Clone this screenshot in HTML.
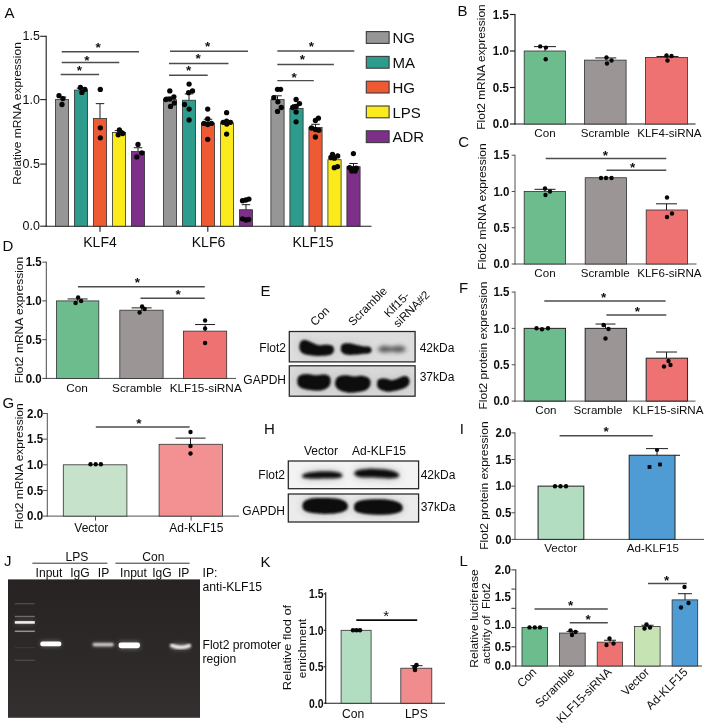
<!DOCTYPE html>
<html lang="en"><head><meta charset="utf-8"><title>Figure</title>
<style>html,body{margin:0;padding:0;background:#fff}svg{display:block}text{font-family:'Liberation Sans', Arial, sans-serif}</style>
</head><body>
<svg width="709" height="726" viewBox="0 0 709 726">
<rect width="709" height="726" fill="#ffffff"/>
<defs>
<filter id="b1" x="-30%" y="-60%" width="160%" height="220%"><feGaussianBlur stdDeviation="1.3"/></filter>
<filter id="b15" x="-30%" y="-80%" width="160%" height="260%"><feGaussianBlur stdDeviation="1.7"/></filter>
<filter id="b2" x="-30%" y="-80%" width="160%" height="260%"><feGaussianBlur stdDeviation="2.2"/></filter>
<filter id="bh" x="-30%" y="-100%" width="160%" height="300%"><feGaussianBlur stdDeviation="4.5"/></filter>
<filter id="b3" x="-20%" y="-120%" width="140%" height="340%"><feGaussianBlur stdDeviation="0.9"/></filter>
<filter id="b4" x="-20%" y="-120%" width="140%" height="340%"><feGaussianBlur stdDeviation="0.75"/></filter>
<linearGradient id="gelg" x1="0" x2="0" y1="0" y2="1"><stop offset="0" stop-color="#272322"/><stop offset="0.55" stop-color="#2d2928"/><stop offset="1" stop-color="#34302f"/></linearGradient>
<clipPath id="cE1"><rect x="289.3" y="331.5" width="125.8" height="30.4"/></clipPath>
<clipPath id="cE2"><rect x="289.3" y="365.8" width="125.8" height="30.4"/></clipPath>
<clipPath id="cH1"><rect x="288.3" y="461.0" width="130.3" height="27.7"/></clipPath>
<clipPath id="cH2"><rect x="288.3" y="494.0" width="130.3" height="28.0"/></clipPath>
<clipPath id="cJ"><rect x="8.0" y="579.4" width="192" height="138.4"/></clipPath>
</defs>
<text transform="translate(4.5 18)" font-size="15" text-anchor="start" font-weight="normal" fill="#0c0c0c">A</text>
<line x1="46.20" y1="35.80" x2="46.20" y2="226.75" stroke="#1c1c1c" stroke-width="1.1"/>
<line x1="45.65" y1="226.20" x2="371.50" y2="226.20" stroke="#1c1c1c" stroke-width="1.1"/>
<line x1="40.20" y1="36.30" x2="46.20" y2="36.30" stroke="#1c1c1c" stroke-width="1.1"/>
<text transform="translate(39.900000000000006 40.30000000000001)" font-size="12.5" text-anchor="end" font-weight="normal" fill="#0c0c0c">1.5</text>
<line x1="40.20" y1="99.60" x2="46.20" y2="99.60" stroke="#1c1c1c" stroke-width="1.1"/>
<text transform="translate(39.900000000000006 103.6)" font-size="12.5" text-anchor="end" font-weight="normal" fill="#0c0c0c">1.0</text>
<line x1="40.20" y1="164.10" x2="46.20" y2="164.10" stroke="#1c1c1c" stroke-width="1.1"/>
<text transform="translate(39.900000000000006 168.09999999999997)" font-size="12.5" text-anchor="end" font-weight="normal" fill="#0c0c0c">0.5</text>
<line x1="40.20" y1="226.20" x2="46.20" y2="226.20" stroke="#1c1c1c" stroke-width="1.1"/>
<text transform="translate(39.900000000000006 230.2)" font-size="12.5" text-anchor="end" font-weight="normal" fill="#0c0c0c">0.0</text>
<text transform="translate(21.2 113.5) rotate(-90) scale(1 0.97)" font-size="12" text-anchor="middle" font-weight="normal" fill="#0c0c0c">Relative mRNA expression</text>
<rect x="55.40" y="99.60" width="13.20" height="126.60" fill="#969696" stroke="#303030" stroke-width="0.8"/>
<line x1="62.00" y1="99.60" x2="62.00" y2="97.07" stroke="#1c1c1c" stroke-width="1.0"/>
<line x1="57.75" y1="97.07" x2="66.25" y2="97.07" stroke="#1c1c1c" stroke-width="1.0"/>
<rect x="74.40" y="90.10" width="13.20" height="136.09" fill="#2e9c8c" stroke="#303030" stroke-width="0.8"/>
<line x1="81.00" y1="90.10" x2="81.00" y2="88.21" stroke="#1c1c1c" stroke-width="1.0"/>
<line x1="76.75" y1="88.21" x2="85.25" y2="88.21" stroke="#1c1c1c" stroke-width="1.0"/>
<rect x="93.40" y="118.59" width="13.20" height="107.61" fill="#ee5a32" stroke="#303030" stroke-width="0.8"/>
<line x1="100.00" y1="118.59" x2="100.00" y2="103.65" stroke="#1c1c1c" stroke-width="1.0"/>
<line x1="95.75" y1="103.65" x2="104.25" y2="103.65" stroke="#1c1c1c" stroke-width="1.0"/>
<rect x="112.40" y="132.52" width="13.20" height="93.68" fill="#fbea1c" stroke="#303030" stroke-width="0.8"/>
<line x1="119.00" y1="132.52" x2="119.00" y2="130.62" stroke="#1c1c1c" stroke-width="1.0"/>
<line x1="114.75" y1="130.62" x2="123.25" y2="130.62" stroke="#1c1c1c" stroke-width="1.0"/>
<rect x="131.40" y="151.51" width="13.20" height="74.69" fill="#7d2f8a" stroke="#303030" stroke-width="0.8"/>
<line x1="138.00" y1="151.51" x2="138.00" y2="147.71" stroke="#1c1c1c" stroke-width="1.0"/>
<line x1="133.75" y1="147.71" x2="142.25" y2="147.71" stroke="#1c1c1c" stroke-width="1.0"/>
<line x1="100.00" y1="226.20" x2="100.00" y2="231.70" stroke="#1c1c1c" stroke-width="1.1"/>
<text transform="translate(100 246.8)" font-size="14" text-anchor="middle" font-weight="normal" fill="#0c0c0c">KLF4</text>
<rect x="163.40" y="99.60" width="13.20" height="126.60" fill="#969696" stroke="#303030" stroke-width="0.8"/>
<line x1="170.00" y1="99.60" x2="170.00" y2="97.07" stroke="#1c1c1c" stroke-width="1.0"/>
<line x1="165.75" y1="97.07" x2="174.25" y2="97.07" stroke="#1c1c1c" stroke-width="1.0"/>
<rect x="182.40" y="100.23" width="13.20" height="125.97" fill="#2e9c8c" stroke="#303030" stroke-width="0.8"/>
<line x1="189.00" y1="100.23" x2="189.00" y2="93.90" stroke="#1c1c1c" stroke-width="1.0"/>
<line x1="184.75" y1="93.90" x2="193.25" y2="93.90" stroke="#1c1c1c" stroke-width="1.0"/>
<rect x="201.40" y="123.02" width="13.20" height="103.18" fill="#ee5a32" stroke="#303030" stroke-width="0.8"/>
<line x1="208.00" y1="123.02" x2="208.00" y2="119.22" stroke="#1c1c1c" stroke-width="1.0"/>
<line x1="203.75" y1="119.22" x2="212.25" y2="119.22" stroke="#1c1c1c" stroke-width="1.0"/>
<rect x="220.40" y="123.02" width="13.20" height="103.18" fill="#fbea1c" stroke="#303030" stroke-width="0.8"/>
<line x1="227.00" y1="123.02" x2="227.00" y2="120.49" stroke="#1c1c1c" stroke-width="1.0"/>
<line x1="222.75" y1="120.49" x2="231.25" y2="120.49" stroke="#1c1c1c" stroke-width="1.0"/>
<rect x="239.40" y="209.74" width="13.20" height="16.46" fill="#7d2f8a" stroke="#303030" stroke-width="0.8"/>
<line x1="246.00" y1="209.74" x2="246.00" y2="204.68" stroke="#1c1c1c" stroke-width="1.0"/>
<line x1="241.75" y1="204.68" x2="250.25" y2="204.68" stroke="#1c1c1c" stroke-width="1.0"/>
<line x1="207.80" y1="226.20" x2="207.80" y2="231.70" stroke="#1c1c1c" stroke-width="1.1"/>
<text transform="translate(208.5 246.8)" font-size="14" text-anchor="middle" font-weight="normal" fill="#0c0c0c">KLF6</text>
<rect x="270.90" y="99.60" width="13.20" height="126.60" fill="#969696" stroke="#303030" stroke-width="0.8"/>
<line x1="277.50" y1="99.60" x2="277.50" y2="95.80" stroke="#1c1c1c" stroke-width="1.0"/>
<line x1="273.25" y1="95.80" x2="281.75" y2="95.80" stroke="#1c1c1c" stroke-width="1.0"/>
<rect x="289.90" y="108.46" width="13.20" height="117.74" fill="#2e9c8c" stroke="#303030" stroke-width="0.8"/>
<line x1="296.50" y1="108.46" x2="296.50" y2="104.66" stroke="#1c1c1c" stroke-width="1.0"/>
<line x1="292.25" y1="104.66" x2="300.75" y2="104.66" stroke="#1c1c1c" stroke-width="1.0"/>
<rect x="308.90" y="127.45" width="13.20" height="98.75" fill="#ee5a32" stroke="#303030" stroke-width="0.8"/>
<line x1="315.50" y1="127.45" x2="315.50" y2="124.29" stroke="#1c1c1c" stroke-width="1.0"/>
<line x1="311.25" y1="124.29" x2="319.75" y2="124.29" stroke="#1c1c1c" stroke-width="1.0"/>
<rect x="327.90" y="159.73" width="13.20" height="66.47" fill="#fbea1c" stroke="#303030" stroke-width="0.8"/>
<line x1="334.50" y1="159.73" x2="334.50" y2="157.20" stroke="#1c1c1c" stroke-width="1.0"/>
<line x1="330.25" y1="157.20" x2="338.75" y2="157.20" stroke="#1c1c1c" stroke-width="1.0"/>
<rect x="346.90" y="166.70" width="13.20" height="59.50" fill="#7d2f8a" stroke="#303030" stroke-width="0.8"/>
<line x1="353.50" y1="166.70" x2="353.50" y2="163.53" stroke="#1c1c1c" stroke-width="1.0"/>
<line x1="349.25" y1="163.53" x2="357.75" y2="163.53" stroke="#1c1c1c" stroke-width="1.0"/>
<line x1="315.00" y1="226.20" x2="315.00" y2="231.70" stroke="#1c1c1c" stroke-width="1.1"/>
<text transform="translate(313 246.8)" font-size="14" text-anchor="middle" font-weight="normal" fill="#0c0c0c">KLF15</text>
<circle cx="59.0" cy="95.7" r="2.65" fill="#060606"/>
<circle cx="62.9" cy="98.6" r="2.65" fill="#060606"/>
<circle cx="62.0" cy="104.5" r="2.65" fill="#060606"/>
<circle cx="80.4" cy="87.4" r="2.65" fill="#060606"/>
<circle cx="84.9" cy="89.4" r="2.65" fill="#060606"/>
<circle cx="81.9" cy="92.4" r="2.65" fill="#060606"/>
<circle cx="100.3" cy="89.4" r="2.65" fill="#060606"/>
<circle cx="100.3" cy="127.8" r="2.65" fill="#060606"/>
<circle cx="100.3" cy="137.8" r="2.65" fill="#060606"/>
<circle cx="119.4" cy="130.0" r="2.65" fill="#060606"/>
<circle cx="122.7" cy="133.5" r="2.65" fill="#060606"/>
<circle cx="118.2" cy="134.8" r="2.65" fill="#060606"/>
<circle cx="138.0" cy="144.4" r="2.65" fill="#060606"/>
<circle cx="141.8" cy="152.9" r="2.65" fill="#060606"/>
<circle cx="136.8" cy="156.9" r="2.65" fill="#060606"/>
<circle cx="169.8" cy="90.9" r="2.65" fill="#060606"/>
<circle cx="165.9" cy="99.5" r="2.65" fill="#060606"/>
<circle cx="169.8" cy="99.1" r="2.65" fill="#060606"/>
<circle cx="173.9" cy="96.8" r="2.65" fill="#060606"/>
<circle cx="174.3" cy="103.0" r="2.65" fill="#060606"/>
<circle cx="170.5" cy="106.4" r="2.65" fill="#060606"/>
<circle cx="189.1" cy="84.1" r="2.65" fill="#060606"/>
<circle cx="192.5" cy="90.9" r="2.65" fill="#060606"/>
<circle cx="188.6" cy="92.7" r="2.65" fill="#060606"/>
<circle cx="184.5" cy="104.5" r="2.65" fill="#060606"/>
<circle cx="189.1" cy="109.1" r="2.65" fill="#060606"/>
<circle cx="189.1" cy="120.0" r="2.65" fill="#060606"/>
<circle cx="207.7" cy="109.1" r="2.65" fill="#060606"/>
<circle cx="207.7" cy="118.9" r="2.65" fill="#060606"/>
<circle cx="203.9" cy="123.4" r="2.65" fill="#060606"/>
<circle cx="207.7" cy="124.5" r="2.65" fill="#060606"/>
<circle cx="211.4" cy="123.4" r="2.65" fill="#060606"/>
<circle cx="207.7" cy="139.3" r="2.65" fill="#060606"/>
<circle cx="226.6" cy="112.7" r="2.65" fill="#060606"/>
<circle cx="223.2" cy="122.3" r="2.65" fill="#060606"/>
<circle cx="226.6" cy="121.1" r="2.65" fill="#060606"/>
<circle cx="230.5" cy="122.3" r="2.65" fill="#060606"/>
<circle cx="226.8" cy="124.0" r="2.65" fill="#060606"/>
<circle cx="226.6" cy="134.1" r="2.65" fill="#060606"/>
<circle cx="242.5" cy="200.7" r="2.65" fill="#060606"/>
<circle cx="245.9" cy="200.0" r="2.65" fill="#060606"/>
<circle cx="248.9" cy="199.1" r="2.65" fill="#060606"/>
<circle cx="242.5" cy="218.9" r="2.65" fill="#060606"/>
<circle cx="245.9" cy="220.0" r="2.65" fill="#060606"/>
<circle cx="248.6" cy="219.5" r="2.65" fill="#060606"/>
<circle cx="277.5" cy="89.3" r="2.65" fill="#060606"/>
<circle cx="280.6" cy="89.3" r="2.65" fill="#060606"/>
<circle cx="273.8" cy="97.7" r="2.65" fill="#060606"/>
<circle cx="277.9" cy="101.8" r="2.65" fill="#060606"/>
<circle cx="281.3" cy="107.5" r="2.65" fill="#060606"/>
<circle cx="277.5" cy="111.4" r="2.65" fill="#060606"/>
<circle cx="296.1" cy="99.5" r="2.65" fill="#060606"/>
<circle cx="299.5" cy="103.6" r="2.65" fill="#060606"/>
<circle cx="292.7" cy="107.5" r="2.65" fill="#060606"/>
<circle cx="296.1" cy="106.4" r="2.65" fill="#060606"/>
<circle cx="296.1" cy="112.0" r="2.65" fill="#060606"/>
<circle cx="296.1" cy="121.8" r="2.65" fill="#060606"/>
<circle cx="318.4" cy="118.2" r="2.65" fill="#060606"/>
<circle cx="315.4" cy="120.5" r="2.65" fill="#060606"/>
<circle cx="311.5" cy="128.0" r="2.65" fill="#060606"/>
<circle cx="315.4" cy="129.5" r="2.65" fill="#060606"/>
<circle cx="318.8" cy="130.2" r="2.65" fill="#060606"/>
<circle cx="315.4" cy="137.0" r="2.65" fill="#060606"/>
<circle cx="332.5" cy="154.5" r="2.65" fill="#060606"/>
<circle cx="337.7" cy="155.9" r="2.65" fill="#060606"/>
<circle cx="330.9" cy="157.5" r="2.65" fill="#060606"/>
<circle cx="334.3" cy="158.2" r="2.65" fill="#060606"/>
<circle cx="334.3" cy="167.7" r="2.65" fill="#060606"/>
<circle cx="337.5" cy="166.6" r="2.65" fill="#060606"/>
<circle cx="353.4" cy="153.6" r="2.65" fill="#060606"/>
<circle cx="349.5" cy="167.7" r="2.65" fill="#060606"/>
<circle cx="352.9" cy="168.9" r="2.65" fill="#060606"/>
<circle cx="356.3" cy="168.2" r="2.65" fill="#060606"/>
<circle cx="351.8" cy="171.1" r="2.65" fill="#060606"/>
<circle cx="355.2" cy="171.1" r="2.65" fill="#060606"/>
<line x1="61.70" y1="51.70" x2="139.00" y2="51.70" stroke="#4c4c4c" stroke-width="1.45"/>
<text transform="translate(98.1 51.9)" font-size="13.5" text-anchor="middle" font-weight="bold" fill="#111">*</text>
<line x1="61.70" y1="62.40" x2="119.30" y2="62.40" stroke="#4c4c4c" stroke-width="1.45"/>
<text transform="translate(86.9 64.9)" font-size="13.5" text-anchor="middle" font-weight="bold" fill="#111">*</text>
<line x1="60.70" y1="74.40" x2="99.10" y2="74.40" stroke="#4c4c4c" stroke-width="1.45"/>
<text transform="translate(79.4 75.4)" font-size="13.5" text-anchor="middle" font-weight="bold" fill="#111">*</text>
<line x1="170.00" y1="51.20" x2="248.00" y2="51.20" stroke="#4c4c4c" stroke-width="1.45"/>
<text transform="translate(207.7 50.9)" font-size="13.5" text-anchor="middle" font-weight="bold" fill="#111">*</text>
<line x1="169.00" y1="63.40" x2="228.50" y2="63.40" stroke="#4c4c4c" stroke-width="1.45"/>
<text transform="translate(198 63.4)" font-size="13.5" text-anchor="middle" font-weight="bold" fill="#111">*</text>
<line x1="169.00" y1="75.20" x2="207.70" y2="75.20" stroke="#4c4c4c" stroke-width="1.45"/>
<text transform="translate(188.7 75.4)" font-size="13.5" text-anchor="middle" font-weight="bold" fill="#111">*</text>
<line x1="277.30" y1="50.90" x2="354.30" y2="50.90" stroke="#4c4c4c" stroke-width="1.45"/>
<text transform="translate(311.3 51.4)" font-size="13.5" text-anchor="middle" font-weight="bold" fill="#111">*</text>
<line x1="277.30" y1="64.50" x2="333.90" y2="64.50" stroke="#4c4c4c" stroke-width="1.45"/>
<text transform="translate(302.4 64.4)" font-size="13.5" text-anchor="middle" font-weight="bold" fill="#111">*</text>
<line x1="277.30" y1="80.60" x2="313.80" y2="80.60" stroke="#4c4c4c" stroke-width="1.45"/>
<text transform="translate(294 82.4)" font-size="13.5" text-anchor="middle" font-weight="bold" fill="#111">*</text>
<rect x="366.30" y="31.60" width="22.80" height="11.80" fill="#969696" stroke="#3a3a3a" stroke-width="1.1"/>
<text transform="translate(392.5 43.2)" font-size="15" text-anchor="start" font-weight="normal" fill="#0c0c0c">NG</text>
<rect x="366.30" y="56.40" width="22.80" height="11.80" fill="#2e9c8c" stroke="#3a3a3a" stroke-width="1.1"/>
<text transform="translate(392.5 68.0)" font-size="15" text-anchor="start" font-weight="normal" fill="#0c0c0c">MA</text>
<rect x="366.30" y="81.20" width="22.80" height="11.80" fill="#ee5a32" stroke="#3a3a3a" stroke-width="1.1"/>
<text transform="translate(392.5 92.8)" font-size="15" text-anchor="start" font-weight="normal" fill="#0c0c0c">HG</text>
<rect x="366.30" y="106.00" width="22.80" height="11.80" fill="#fbea1c" stroke="#3a3a3a" stroke-width="1.1"/>
<text transform="translate(392.5 117.6)" font-size="15" text-anchor="start" font-weight="normal" fill="#0c0c0c">LPS</text>
<rect x="366.30" y="130.80" width="22.80" height="11.80" fill="#7d2f8a" stroke="#3a3a3a" stroke-width="1.1"/>
<text transform="translate(392.5 142.4)" font-size="15" text-anchor="start" font-weight="normal" fill="#0c0c0c">ADR</text>
<text transform="translate(457.5 15.5)" font-size="15" text-anchor="start" font-weight="normal" fill="#0c0c0c">B</text>
<line x1="515.00" y1="14.00" x2="515.00" y2="124.55" stroke="#1c1c1c" stroke-width="1.15"/>
<line x1="514.45" y1="124.00" x2="695.50" y2="124.00" stroke="#1c1c1c" stroke-width="1.15"/>
<line x1="510.00" y1="14.50" x2="515.00" y2="14.50" stroke="#1c1c1c" stroke-width="1.15"/>
<text transform="translate(508.8 18.7) scale(0.96 1)" font-size="12" text-anchor="end" font-weight="bold" fill="#0c0c0c">1.5</text>
<line x1="510.00" y1="51.00" x2="515.00" y2="51.00" stroke="#1c1c1c" stroke-width="1.15"/>
<text transform="translate(508.8 55.2) scale(0.96 1)" font-size="12" text-anchor="end" font-weight="bold" fill="#0c0c0c">1.0</text>
<line x1="510.00" y1="87.50" x2="515.00" y2="87.50" stroke="#1c1c1c" stroke-width="1.15"/>
<text transform="translate(508.8 91.7) scale(0.96 1)" font-size="12" text-anchor="end" font-weight="bold" fill="#0c0c0c">0.5</text>
<line x1="510.00" y1="124.00" x2="515.00" y2="124.00" stroke="#1c1c1c" stroke-width="1.15"/>
<text transform="translate(508.8 128.2) scale(0.96 1)" font-size="12" text-anchor="end" font-weight="bold" fill="#0c0c0c">0.0</text>
<text transform="translate(485.4 67) rotate(-90) scale(1 0.92)" font-size="11.95" text-anchor="middle" font-weight="normal" fill="#0c0c0c">Flot2 mRNA expression</text>
<rect x="524.20" y="51.00" width="41.30" height="73.00" fill="#6cbc8e" stroke="#303030" stroke-width="0.8"/>
<rect x="584.50" y="60.12" width="41.60" height="63.88" fill="#9b9695" stroke="#303030" stroke-width="0.8"/>
<rect x="645.50" y="57.57" width="42.00" height="66.43" fill="#ef7273" stroke="#303030" stroke-width="0.8"/>
<line x1="545.00" y1="51.00" x2="545.00" y2="46.62" stroke="#1c1c1c" stroke-width="1.0"/>
<line x1="534.00" y1="46.62" x2="556.00" y2="46.62" stroke="#1c1c1c" stroke-width="1.0"/>
<line x1="605.80" y1="60.12" x2="605.80" y2="57.94" stroke="#1c1c1c" stroke-width="1.0"/>
<line x1="595.30" y1="57.94" x2="616.30" y2="57.94" stroke="#1c1c1c" stroke-width="1.0"/>
<line x1="667.50" y1="57.57" x2="667.50" y2="56.47" stroke="#1c1c1c" stroke-width="1.0"/>
<line x1="656.50" y1="56.47" x2="678.50" y2="56.47" stroke="#1c1c1c" stroke-width="1.0"/>
<text transform="translate(545 136.8)" font-size="11.6" text-anchor="middle" font-weight="normal" fill="#0c0c0c">Con</text>
<text transform="translate(605.3 136.8)" font-size="11.6" text-anchor="middle" font-weight="normal" fill="#0c0c0c">Scramble</text>
<text transform="translate(669.4 136.8)" font-size="11.6" text-anchor="middle" font-weight="normal" fill="#0c0c0c">KLF4-siRNA</text>
<circle cx="540.2" cy="46.4" r="2.2" fill="#060606"/>
<circle cx="545.9" cy="47.6" r="2.2" fill="#060606"/>
<circle cx="545.7" cy="59.2" r="2.2" fill="#060606"/>
<circle cx="606.5" cy="57.5" r="2.2" fill="#060606"/>
<circle cx="611.5" cy="60.5" r="2.2" fill="#060606"/>
<circle cx="607.0" cy="63.5" r="2.2" fill="#060606"/>
<circle cx="666.5" cy="55.5" r="2.2" fill="#060606"/>
<circle cx="671.5" cy="56.0" r="2.2" fill="#060606"/>
<circle cx="667.5" cy="60.5" r="2.2" fill="#060606"/>
<text transform="translate(458.3 147.3)" font-size="15" text-anchor="start" font-weight="normal" fill="#0c0c0c">C</text>
<line x1="515.00" y1="154.75" x2="515.00" y2="264.55" stroke="#505050" stroke-width="1.0"/>
<line x1="514.45" y1="264.00" x2="696.50" y2="264.00" stroke="#505050" stroke-width="1.0"/>
<line x1="511.70" y1="155.25" x2="515.00" y2="155.25" stroke="#505050" stroke-width="1.0"/>
<text transform="translate(509.4 159.45) scale(0.96 1)" font-size="12" text-anchor="end" font-weight="bold" fill="#0c0c0c">1.5</text>
<line x1="511.70" y1="191.50" x2="515.00" y2="191.50" stroke="#505050" stroke-width="1.0"/>
<text transform="translate(509.4 195.7) scale(0.96 1)" font-size="12" text-anchor="end" font-weight="bold" fill="#0c0c0c">1.0</text>
<line x1="511.70" y1="227.75" x2="515.00" y2="227.75" stroke="#505050" stroke-width="1.0"/>
<text transform="translate(509.4 231.95) scale(0.96 1)" font-size="12" text-anchor="end" font-weight="bold" fill="#0c0c0c">0.5</text>
<line x1="511.70" y1="264.00" x2="515.00" y2="264.00" stroke="#505050" stroke-width="1.0"/>
<text transform="translate(509.4 268.2) scale(0.96 1)" font-size="12" text-anchor="end" font-weight="bold" fill="#0c0c0c">0.0</text>
<text transform="translate(486.3 206.5) rotate(-90) scale(1 0.92)" font-size="12.05" text-anchor="middle" font-weight="normal" fill="#0c0c0c">Flot2 mRNA expression</text>
<rect x="524.20" y="191.50" width="41.30" height="72.50" fill="#6cbc8e" stroke="#303030" stroke-width="0.8"/>
<rect x="585.20" y="177.73" width="41.30" height="86.27" fill="#9b9695" stroke="#303030" stroke-width="0.8"/>
<rect x="646.20" y="209.99" width="41.30" height="54.01" fill="#ef7273" stroke="#303030" stroke-width="0.8"/>
<line x1="545.00" y1="191.50" x2="545.00" y2="189.32" stroke="#1c1c1c" stroke-width="1.0"/>
<line x1="534.50" y1="189.32" x2="555.50" y2="189.32" stroke="#1c1c1c" stroke-width="1.0"/>
<line x1="666.50" y1="209.99" x2="666.50" y2="203.82" stroke="#1c1c1c" stroke-width="1.0"/>
<line x1="656.00" y1="203.82" x2="677.00" y2="203.82" stroke="#1c1c1c" stroke-width="1.0"/>
<text transform="translate(545 277.4)" font-size="11.6" text-anchor="middle" font-weight="normal" fill="#0c0c0c">Con</text>
<text transform="translate(605.3 277.4)" font-size="11.6" text-anchor="middle" font-weight="normal" fill="#0c0c0c">Scramble</text>
<text transform="translate(669.4 277.4)" font-size="11.6" text-anchor="middle" font-weight="normal" fill="#0c0c0c">KLF6-siRNA</text>
<circle cx="545.0" cy="188.5" r="2.2" fill="#060606"/>
<circle cx="550.0" cy="191.5" r="2.2" fill="#060606"/>
<circle cx="545.5" cy="195.0" r="2.2" fill="#060606"/>
<circle cx="601.0" cy="178.0" r="2.2" fill="#060606"/>
<circle cx="606.0" cy="178.0" r="2.2" fill="#060606"/>
<circle cx="611.5" cy="178.0" r="2.2" fill="#060606"/>
<circle cx="667.0" cy="197.5" r="2.2" fill="#060606"/>
<circle cx="672.0" cy="213.5" r="2.2" fill="#060606"/>
<circle cx="667.0" cy="217.0" r="2.2" fill="#060606"/>
<line x1="545.70" y1="158.40" x2="666.30" y2="158.40" stroke="#4c4c4c" stroke-width="1.45"/>
<text transform="translate(605.3 159.9)" font-size="13.5" text-anchor="middle" font-weight="bold" fill="#111">*</text>
<line x1="606.40" y1="170.20" x2="666.30" y2="170.20" stroke="#4c4c4c" stroke-width="1.45"/>
<text transform="translate(632.7 171.9)" font-size="13.5" text-anchor="middle" font-weight="bold" fill="#111">*</text>
<text transform="translate(2.5 251.0)" font-size="15" text-anchor="start" font-weight="normal" fill="#0c0c0c">D</text>
<line x1="46.30" y1="261.65" x2="46.30" y2="378.95" stroke="#4a4a4a" stroke-width="1.0"/>
<line x1="45.75" y1="378.40" x2="236.00" y2="378.40" stroke="#4a4a4a" stroke-width="1.0"/>
<line x1="42.30" y1="262.15" x2="46.30" y2="262.15" stroke="#4a4a4a" stroke-width="1.0"/>
<text transform="translate(41.7 266.34999999999997) scale(0.96 1)" font-size="12" text-anchor="end" font-weight="bold" fill="#0c0c0c">1.5</text>
<line x1="42.30" y1="300.90" x2="46.30" y2="300.90" stroke="#4a4a4a" stroke-width="1.0"/>
<text transform="translate(41.7 305.09999999999997) scale(0.96 1)" font-size="12" text-anchor="end" font-weight="bold" fill="#0c0c0c">1.0</text>
<line x1="42.30" y1="339.65" x2="46.30" y2="339.65" stroke="#4a4a4a" stroke-width="1.0"/>
<text transform="translate(41.7 343.84999999999997) scale(0.96 1)" font-size="12" text-anchor="end" font-weight="bold" fill="#0c0c0c">0.5</text>
<line x1="42.30" y1="378.40" x2="46.30" y2="378.40" stroke="#4a4a4a" stroke-width="1.0"/>
<text transform="translate(41.7 382.59999999999997) scale(0.96 1)" font-size="12" text-anchor="end" font-weight="bold" fill="#0c0c0c">0.0</text>
<text transform="translate(22.6 320.0) rotate(-90) scale(1 0.93)" font-size="12.05" text-anchor="middle" font-weight="normal" fill="#0c0c0c">Flot2 mRNA expression</text>
<rect x="56.50" y="300.90" width="42.30" height="77.50" fill="#6cbc8e" stroke="#303030" stroke-width="0.8"/>
<rect x="119.80" y="310.20" width="43.30" height="68.20" fill="#9b9695" stroke="#303030" stroke-width="0.8"/>
<rect x="183.40" y="331.12" width="43.30" height="47.27" fill="#ef7273" stroke="#303030" stroke-width="0.8"/>
<line x1="77.60" y1="300.90" x2="77.60" y2="298.96" stroke="#1c1c1c" stroke-width="1.0"/>
<line x1="67.60" y1="298.96" x2="87.60" y2="298.96" stroke="#1c1c1c" stroke-width="1.0"/>
<line x1="141.60" y1="310.20" x2="141.60" y2="307.88" stroke="#1c1c1c" stroke-width="1.0"/>
<line x1="131.60" y1="307.88" x2="151.60" y2="307.88" stroke="#1c1c1c" stroke-width="1.0"/>
<line x1="205.10" y1="331.12" x2="205.10" y2="324.54" stroke="#1c1c1c" stroke-width="1.0"/>
<line x1="195.10" y1="324.54" x2="215.10" y2="324.54" stroke="#1c1c1c" stroke-width="1.0"/>
<text transform="translate(77.0 392.0)" font-size="11.8" text-anchor="middle" font-weight="normal" fill="#0c0c0c">Con</text>
<text transform="translate(137.0 392.0)" font-size="11.8" text-anchor="middle" font-weight="normal" fill="#0c0c0c">Scramble</text>
<text transform="translate(205.7 392.0)" font-size="11.8" text-anchor="middle" font-weight="normal" fill="#0c0c0c">KLF15-siRNA</text>
<circle cx="78.1" cy="297.5" r="2.2" fill="#060606"/>
<circle cx="81.1" cy="301.0" r="2.2" fill="#060606"/>
<circle cx="75.6" cy="303.0" r="2.2" fill="#060606"/>
<circle cx="142.1" cy="306.5" r="2.2" fill="#060606"/>
<circle cx="144.6" cy="309.0" r="2.2" fill="#060606"/>
<circle cx="139.6" cy="312.5" r="2.2" fill="#060606"/>
<circle cx="205.1" cy="320.5" r="2.2" fill="#060606"/>
<circle cx="205.1" cy="328.5" r="2.2" fill="#060606"/>
<circle cx="205.1" cy="343.0" r="2.2" fill="#060606"/>
<line x1="77.90" y1="286.70" x2="204.80" y2="286.70" stroke="#4c4c4c" stroke-width="1.45"/>
<text transform="translate(137.4 286.59999999999997)" font-size="13.5" text-anchor="middle" font-weight="bold" fill="#111">*</text>
<line x1="140.50" y1="298.20" x2="204.80" y2="298.20" stroke="#4c4c4c" stroke-width="1.45"/>
<text transform="translate(178.0 299.4)" font-size="13.5" text-anchor="middle" font-weight="bold" fill="#111">*</text>
<text transform="translate(260.5 295.5)" font-size="15" text-anchor="start" font-weight="normal" fill="#0c0c0c">E</text>
<text transform="translate(315 326.5) rotate(-45)" font-size="11.7" text-anchor="start" font-weight="normal" fill="#0c0c0c">Con</text>
<text transform="translate(353 326.5) rotate(-45)" font-size="11.7" text-anchor="start" font-weight="normal" fill="#0c0c0c">Scramble</text>
<text transform="translate(388.8 318) rotate(-45)" font-size="11.6" text-anchor="start" font-weight="normal" fill="#0c0c0c">Klf15-</text>
<text transform="translate(398 328) rotate(-45)" font-size="11.6" text-anchor="start" font-weight="normal" fill="#0c0c0c">siRNA#2</text>
<rect x="289.3" y="331.5" width="125.8" height="30.4" fill="#dddddd"/>
<g clip-path="url(#cE1)">
<path d="M299.43,345.86 C299.60,344.36 299.94,342.31 301.06,341.36 C302.19,340.41 304.23,339.86 306.18,340.13 C308.12,340.41 310.61,342.14 312.72,343.00 C314.83,343.85 316.64,344.97 318.85,345.25 C321.07,345.52 323.83,344.60 326.01,344.63 C328.19,344.67 330.61,344.70 331.94,345.45 C333.27,346.20 333.89,347.84 333.99,349.13 C334.09,350.43 333.54,352.20 332.56,353.22 C331.57,354.24 330.34,354.82 328.06,355.27 C325.77,355.71 321.75,355.88 318.85,355.88 C315.96,355.88 313.23,355.61 310.67,355.27 C308.12,354.93 305.29,354.65 303.52,353.83 C301.75,353.02 300.72,351.69 300.04,350.36 C299.36,349.03 299.26,347.36 299.43,345.86Z" fill="#555" opacity="0.22" filter="url(#bh)"/>
<path d="M340.94,347.49 C341.11,346.27 341.11,344.94 342.37,344.22 C343.63,343.51 346.29,343.13 348.51,343.20 C350.72,343.27 353.28,344.12 355.66,344.63 C358.05,345.14 360.50,345.89 362.82,346.27 C365.14,346.64 368.10,346.27 369.57,346.88 C371.04,347.49 371.62,348.93 371.62,349.95 C371.62,350.97 371.21,352.33 369.57,353.02 C367.93,353.70 364.46,353.73 361.80,354.04 C359.14,354.35 356.35,354.79 353.62,354.86 C350.89,354.93 347.48,354.99 345.44,354.45 C343.39,353.90 342.10,352.74 341.35,351.58 C340.60,350.43 340.77,348.72 340.94,347.49Z" fill="#555" opacity="0.2" filter="url(#bh)"/>
<path d="M299.43,345.86 C299.60,344.36 299.94,342.31 301.06,341.36 C302.19,340.41 304.23,339.86 306.18,340.13 C308.12,340.41 310.61,342.14 312.72,343.00 C314.83,343.85 316.64,344.97 318.85,345.25 C321.07,345.52 323.83,344.60 326.01,344.63 C328.19,344.67 330.61,344.70 331.94,345.45 C333.27,346.20 333.89,347.84 333.99,349.13 C334.09,350.43 333.54,352.20 332.56,353.22 C331.57,354.24 330.34,354.82 328.06,355.27 C325.77,355.71 321.75,355.88 318.85,355.88 C315.96,355.88 313.23,355.61 310.67,355.27 C308.12,354.93 305.29,354.65 303.52,353.83 C301.75,353.02 300.72,351.69 300.04,350.36 C299.36,349.03 299.26,347.36 299.43,345.86Z" fill="#0b0b0b" opacity="1.0" filter="url(#b1)"/>
<path d="M340.94,347.49 C341.11,346.27 341.11,344.94 342.37,344.22 C343.63,343.51 346.29,343.13 348.51,343.20 C350.72,343.27 353.28,344.12 355.66,344.63 C358.05,345.14 360.50,345.89 362.82,346.27 C365.14,346.64 368.10,346.27 369.57,346.88 C371.04,347.49 371.62,348.93 371.62,349.95 C371.62,350.97 371.21,352.33 369.57,353.02 C367.93,353.70 364.46,353.73 361.80,354.04 C359.14,354.35 356.35,354.79 353.62,354.86 C350.89,354.93 347.48,354.99 345.44,354.45 C343.39,353.90 342.10,352.74 341.35,351.58 C340.60,350.43 340.77,348.72 340.94,347.49Z" fill="#0b0b0b" opacity="1.0" filter="url(#b1)"/>
<path d="M378.57,347.90 C379.52,347.09 382.15,346.00 384.29,345.86 C386.44,345.72 389.07,347.09 391.45,347.09 C393.84,347.09 396.39,345.79 398.61,345.86 C400.82,345.93 403.65,346.68 404.74,347.49 C405.84,348.31 406.18,349.95 405.15,350.77 C404.13,351.58 400.89,352.27 398.61,352.40 C396.33,352.54 393.84,351.58 391.45,351.58 C389.07,351.58 386.44,352.54 384.29,352.40 C382.15,352.27 379.52,351.52 378.57,350.77 C377.61,350.02 377.61,348.72 378.57,347.90Z" fill="#333" opacity="0.78" filter="url(#b2)"/>
</g>
<rect x="289.3" y="331.5" width="125.8" height="30.4" fill="none" stroke="#242424" stroke-width="1.25"/>
<rect x="289.3" y="365.8" width="125.8" height="30.4" fill="#d9d9d9"/>
<g clip-path="url(#cE2)">
<path d="M297.38,380.21 C297.62,378.72 297.89,376.74 299.43,375.72 C300.96,374.69 304.03,374.15 306.58,374.08 C309.14,374.01 311.87,375.24 314.76,375.31 C317.66,375.37 321.51,374.28 323.97,374.49 C326.42,374.69 328.40,375.24 329.49,376.53 C330.58,377.83 330.75,380.45 330.51,382.26 C330.27,384.07 329.66,386.01 328.06,387.37 C326.46,388.74 323.80,390.00 320.90,390.44 C318.00,390.88 313.91,390.44 310.67,390.03 C307.44,389.62 303.59,388.87 301.47,387.99 C299.36,387.10 298.68,386.01 298.00,384.71 C297.31,383.42 297.14,381.71 297.38,380.21Z" fill="#555" opacity="0.22" filter="url(#bh)"/>
<path d="M335.21,382.26 C335.52,380.73 335.96,378.31 337.67,377.15 C339.37,375.99 342.78,375.41 345.44,375.31 C348.10,375.20 350.89,376.47 353.62,376.53 C356.35,376.60 359.21,375.37 361.80,375.72 C364.39,376.06 367.73,377.15 369.16,378.58 C370.59,380.01 370.76,382.50 370.39,384.30 C370.01,386.11 369.03,388.12 366.91,389.42 C364.80,390.71 360.95,391.56 357.71,392.08 C354.47,392.59 350.55,392.83 347.48,392.48 C344.42,392.14 341.25,391.05 339.30,390.03 C337.36,389.01 336.51,387.64 335.83,386.35 C335.15,385.05 334.91,383.79 335.21,382.26Z" fill="#555" opacity="0.22" filter="url(#bh)"/>
<path d="M377.14,384.30 C377.21,383.04 376.97,380.76 378.16,379.81 C379.35,378.85 381.91,378.51 384.29,378.58 C386.68,378.65 389.92,380.35 392.47,380.21 C395.03,380.08 397.52,378.44 399.63,377.76 C401.75,377.08 403.62,375.99 405.15,376.12 C406.69,376.26 408.15,377.39 408.83,378.58 C409.52,379.77 409.75,381.82 409.24,383.28 C408.73,384.75 407.54,386.25 405.77,387.37 C403.99,388.50 401.51,389.31 398.61,390.03 C395.71,390.75 391.28,391.67 388.38,391.67 C385.49,391.67 383.00,390.75 381.23,390.03 C379.45,389.31 378.43,388.33 377.75,387.37 C377.07,386.42 377.07,385.57 377.14,384.30Z" fill="#555" opacity="0.22" filter="url(#bh)"/>
<path d="M297.38,380.21 C297.62,378.72 297.89,376.74 299.43,375.72 C300.96,374.69 304.03,374.15 306.58,374.08 C309.14,374.01 311.87,375.24 314.76,375.31 C317.66,375.37 321.51,374.28 323.97,374.49 C326.42,374.69 328.40,375.24 329.49,376.53 C330.58,377.83 330.75,380.45 330.51,382.26 C330.27,384.07 329.66,386.01 328.06,387.37 C326.46,388.74 323.80,390.00 320.90,390.44 C318.00,390.88 313.91,390.44 310.67,390.03 C307.44,389.62 303.59,388.87 301.47,387.99 C299.36,387.10 298.68,386.01 298.00,384.71 C297.31,383.42 297.14,381.71 297.38,380.21Z" fill="#0b0b0b" opacity="1.0" filter="url(#b1)"/>
<path d="M335.21,382.26 C335.52,380.73 335.96,378.31 337.67,377.15 C339.37,375.99 342.78,375.41 345.44,375.31 C348.10,375.20 350.89,376.47 353.62,376.53 C356.35,376.60 359.21,375.37 361.80,375.72 C364.39,376.06 367.73,377.15 369.16,378.58 C370.59,380.01 370.76,382.50 370.39,384.30 C370.01,386.11 369.03,388.12 366.91,389.42 C364.80,390.71 360.95,391.56 357.71,392.08 C354.47,392.59 350.55,392.83 347.48,392.48 C344.42,392.14 341.25,391.05 339.30,390.03 C337.36,389.01 336.51,387.64 335.83,386.35 C335.15,385.05 334.91,383.79 335.21,382.26Z" fill="#0b0b0b" opacity="1.0" filter="url(#b1)"/>
<path d="M377.14,384.30 C377.21,383.04 376.97,380.76 378.16,379.81 C379.35,378.85 381.91,378.51 384.29,378.58 C386.68,378.65 389.92,380.35 392.47,380.21 C395.03,380.08 397.52,378.44 399.63,377.76 C401.75,377.08 403.62,375.99 405.15,376.12 C406.69,376.26 408.15,377.39 408.83,378.58 C409.52,379.77 409.75,381.82 409.24,383.28 C408.73,384.75 407.54,386.25 405.77,387.37 C403.99,388.50 401.51,389.31 398.61,390.03 C395.71,390.75 391.28,391.67 388.38,391.67 C385.49,391.67 383.00,390.75 381.23,390.03 C379.45,389.31 378.43,388.33 377.75,387.37 C377.07,386.42 377.07,385.57 377.14,384.30Z" fill="#0b0b0b" opacity="1.0" filter="url(#b1)"/>
</g>
<rect x="289.3" y="365.8" width="125.8" height="30.4" fill="none" stroke="#242424" stroke-width="1.25"/>
<text transform="translate(286 351.5)" font-size="12" text-anchor="end" font-weight="normal" fill="#0c0c0c">Flot2</text>
<text transform="translate(286 383.5)" font-size="12" text-anchor="end" font-weight="normal" fill="#0c0c0c">GAPDH</text>
<text transform="translate(419.7 351.5)" font-size="12" text-anchor="start" font-weight="normal" fill="#0c0c0c">42kDa</text>
<text transform="translate(419.7 380.7)" font-size="12" text-anchor="start" font-weight="normal" fill="#0c0c0c">37kDa</text>
<text transform="translate(459.0 293.0)" font-size="15" text-anchor="start" font-weight="normal" fill="#0c0c0c">F</text>
<line x1="515.00" y1="291.55" x2="515.00" y2="401.65" stroke="#505050" stroke-width="1.0"/>
<line x1="514.45" y1="401.10" x2="695.50" y2="401.10" stroke="#505050" stroke-width="1.0"/>
<line x1="511.70" y1="292.05" x2="515.00" y2="292.05" stroke="#505050" stroke-width="1.0"/>
<text transform="translate(509.4 296.25) scale(0.96 1)" font-size="12" text-anchor="end" font-weight="bold" fill="#0c0c0c">1.5</text>
<line x1="511.70" y1="328.40" x2="515.00" y2="328.40" stroke="#505050" stroke-width="1.0"/>
<text transform="translate(509.4 332.6) scale(0.96 1)" font-size="12" text-anchor="end" font-weight="bold" fill="#0c0c0c">1.0</text>
<line x1="511.70" y1="364.75" x2="515.00" y2="364.75" stroke="#505050" stroke-width="1.0"/>
<text transform="translate(509.4 368.95) scale(0.96 1)" font-size="12" text-anchor="end" font-weight="bold" fill="#0c0c0c">0.5</text>
<line x1="511.70" y1="401.10" x2="515.00" y2="401.10" stroke="#505050" stroke-width="1.0"/>
<text transform="translate(509.4 405.3) scale(0.96 1)" font-size="12" text-anchor="end" font-weight="bold" fill="#0c0c0c">0.0</text>
<text transform="translate(487.0 345.5) rotate(-90) scale(1 0.92)" font-size="12.0" text-anchor="middle" font-weight="normal" fill="#0c0c0c">Flot2 protein expression</text>
<rect x="524.20" y="328.40" width="41.30" height="72.70" fill="#6cbc8e" stroke="#303030" stroke-width="1.1"/>
<rect x="585.20" y="328.40" width="41.30" height="72.70" fill="#9b9695" stroke="#303030" stroke-width="1.1"/>
<rect x="646.20" y="358.21" width="41.30" height="42.89" fill="#ef7273" stroke="#303030" stroke-width="1.1"/>
<line x1="605.50" y1="328.40" x2="605.50" y2="324.04" stroke="#1c1c1c" stroke-width="1.0"/>
<line x1="595.50" y1="324.04" x2="615.50" y2="324.04" stroke="#1c1c1c" stroke-width="1.0"/>
<line x1="666.50" y1="358.21" x2="666.50" y2="352.03" stroke="#1c1c1c" stroke-width="1.0"/>
<line x1="656.00" y1="352.03" x2="677.00" y2="352.03" stroke="#1c1c1c" stroke-width="1.0"/>
<text transform="translate(545.9 414.0)" font-size="11.6" text-anchor="middle" font-weight="normal" fill="#0c0c0c">Con</text>
<text transform="translate(598 414.0)" font-size="11.6" text-anchor="middle" font-weight="normal" fill="#0c0c0c">Scramble</text>
<text transform="translate(668 414.0)" font-size="11.6" text-anchor="middle" font-weight="normal" fill="#0c0c0c">KLF15-siRNA</text>
<circle cx="536.5" cy="328.3" r="2.2" fill="#060606"/>
<circle cx="542.0" cy="329.3" r="2.2" fill="#060606"/>
<circle cx="548.0" cy="328.3" r="2.2" fill="#060606"/>
<circle cx="603.5" cy="325.0" r="2.2" fill="#060606"/>
<circle cx="608.5" cy="329.0" r="2.2" fill="#060606"/>
<circle cx="605.5" cy="338.5" r="2.2" fill="#060606"/>
<circle cx="664.0" cy="366.5" r="2.2" fill="#060606"/>
<circle cx="668.5" cy="361.0" r="2.2" fill="#060606"/>
<circle cx="670.5" cy="365.0" r="2.2" fill="#060606"/>
<line x1="544.30" y1="301.00" x2="665.60" y2="301.00" stroke="#4c4c4c" stroke-width="1.45"/>
<text transform="translate(603.5 302.4)" font-size="13.5" text-anchor="middle" font-weight="bold" fill="#111">*</text>
<line x1="606.40" y1="315.00" x2="666.30" y2="315.00" stroke="#4c4c4c" stroke-width="1.45"/>
<text transform="translate(637.4 316.4)" font-size="13.5" text-anchor="middle" font-weight="bold" fill="#111">*</text>
<text transform="translate(2.5 407.8)" font-size="15" text-anchor="start" font-weight="normal" fill="#0c0c0c">G</text>
<line x1="47.30" y1="413.00" x2="47.30" y2="516.65" stroke="#505050" stroke-width="1.0"/>
<line x1="46.75" y1="516.10" x2="239.00" y2="516.10" stroke="#505050" stroke-width="1.0"/>
<line x1="42.90" y1="413.50" x2="47.30" y2="413.50" stroke="#505050" stroke-width="1.0"/>
<text transform="translate(43.099999999999994 417.7) scale(0.96 1)" font-size="12" text-anchor="end" font-weight="bold" fill="#0c0c0c">2.0</text>
<line x1="42.90" y1="439.15" x2="47.30" y2="439.15" stroke="#505050" stroke-width="1.0"/>
<text transform="translate(43.099999999999994 443.35) scale(0.96 1)" font-size="12" text-anchor="end" font-weight="bold" fill="#0c0c0c">1.5</text>
<line x1="42.90" y1="464.80" x2="47.30" y2="464.80" stroke="#505050" stroke-width="1.0"/>
<text transform="translate(43.099999999999994 469.0) scale(0.96 1)" font-size="12" text-anchor="end" font-weight="bold" fill="#0c0c0c">1.0</text>
<line x1="42.90" y1="490.45" x2="47.30" y2="490.45" stroke="#505050" stroke-width="1.0"/>
<text transform="translate(43.099999999999994 494.65000000000003) scale(0.96 1)" font-size="12" text-anchor="end" font-weight="bold" fill="#0c0c0c">0.5</text>
<line x1="42.90" y1="516.10" x2="47.30" y2="516.10" stroke="#505050" stroke-width="1.0"/>
<text transform="translate(43.099999999999994 520.3000000000001) scale(0.96 1)" font-size="12" text-anchor="end" font-weight="bold" fill="#0c0c0c">0.0</text>
<text transform="translate(22.7 466.3) rotate(-90) scale(1 0.93)" font-size="12.0" text-anchor="middle" font-weight="normal" fill="#0c0c0c">Flot2 mRNA expression</text>
<line x1="95.50" y1="516.10" x2="95.50" y2="520.60" stroke="#505050" stroke-width="1.0"/>
<line x1="191.10" y1="516.10" x2="191.10" y2="520.60" stroke="#505050" stroke-width="1.0"/>
<rect x="63.30" y="464.80" width="63.60" height="51.30" fill="#c6e2ca" stroke="#303030" stroke-width="0.8"/>
<rect x="159.10" y="444.28" width="63.30" height="71.82" fill="#f39091" stroke="#303030" stroke-width="0.8"/>
<line x1="190.50" y1="444.28" x2="190.50" y2="438.12" stroke="#1c1c1c" stroke-width="1.0"/>
<line x1="175.50" y1="438.12" x2="205.50" y2="438.12" stroke="#1c1c1c" stroke-width="1.0"/>
<text transform="translate(91.3 532.0)" font-size="12.0" text-anchor="middle" font-weight="normal" fill="#0c0c0c">Vector</text>
<text transform="translate(196.3 532.0)" font-size="12.0" text-anchor="middle" font-weight="normal" fill="#0c0c0c">Ad-KLF15</text>
<circle cx="90.5" cy="464.3" r="2.2" fill="#060606"/>
<circle cx="95.7" cy="464.3" r="2.2" fill="#060606"/>
<circle cx="100.9" cy="464.3" r="2.2" fill="#060606"/>
<circle cx="190.5" cy="432.0" r="2.2" fill="#060606"/>
<circle cx="190.5" cy="446.0" r="2.2" fill="#060606"/>
<circle cx="190.5" cy="453.5" r="2.2" fill="#060606"/>
<line x1="95.80" y1="427.00" x2="189.60" y2="427.00" stroke="#4c4c4c" stroke-width="1.45"/>
<text transform="translate(138.8 427.9)" font-size="13.5" text-anchor="middle" font-weight="bold" fill="#111">*</text>
<text transform="translate(264 434)" font-size="15" text-anchor="start" font-weight="normal" fill="#0c0c0c">H</text>
<text transform="translate(321 455.3)" font-size="12" text-anchor="middle" font-weight="normal" fill="#0c0c0c">Vector</text>
<text transform="translate(379 455.3)" font-size="12" text-anchor="middle" font-weight="normal" fill="#0c0c0c">Ad-KLF15</text>
<rect x="288.3" y="461.0" width="130.3" height="27.7" fill="#f3f3f3"/>
<g clip-path="url(#cH1)">
<path d="M302.09,475.86 C302.32,475.07 303.45,474.05 305.56,473.40 C307.68,472.76 311.53,472.28 314.76,471.97 C318.00,471.67 321.58,471.56 324.99,471.56 C328.40,471.56 332.49,471.60 335.21,471.97 C337.94,472.35 340.22,473.06 341.35,473.81 C342.47,474.56 342.64,475.76 341.96,476.47 C341.28,477.19 340.09,477.80 337.26,478.11 C334.43,478.42 329.08,478.24 324.99,478.31 C320.90,478.38 316.20,478.55 312.72,478.52 C309.24,478.48 305.90,478.55 304.13,478.11 C302.36,477.67 301.85,476.64 302.09,475.86Z" fill="#444" opacity="0.4" filter="url(#bh)"/>
<path d="M354.23,473.81 C354.13,472.76 355.43,471.16 357.71,470.34 C359.99,469.52 364.19,469.08 367.93,468.91 C371.68,468.74 376.28,469.01 380.20,469.31 C384.12,469.62 388.49,470.06 391.45,470.75 C394.42,471.43 396.77,472.45 398.00,473.40 C399.22,474.36 399.73,475.69 398.81,476.47 C397.89,477.26 395.58,477.90 392.47,478.11 C389.37,478.31 384.29,477.84 380.20,477.70 C376.11,477.56 371.58,477.46 367.93,477.29 C364.29,477.12 360.61,477.26 358.32,476.68 C356.04,476.10 354.34,474.87 354.23,473.81Z" fill="#444" opacity="0.44" filter="url(#bh)"/>
<path d="M302.09,475.86 C302.32,475.07 303.45,474.05 305.56,473.40 C307.68,472.76 311.53,472.28 314.76,471.97 C318.00,471.67 321.58,471.56 324.99,471.56 C328.40,471.56 332.49,471.60 335.21,471.97 C337.94,472.35 340.22,473.06 341.35,473.81 C342.47,474.56 342.64,475.76 341.96,476.47 C341.28,477.19 340.09,477.80 337.26,478.11 C334.43,478.42 329.08,478.24 324.99,478.31 C320.90,478.38 316.20,478.55 312.72,478.52 C309.24,478.48 305.90,478.55 304.13,478.11 C302.36,477.67 301.85,476.64 302.09,475.86Z" fill="#0b0b0b" opacity="1" filter="url(#b15)"/>
<path d="M354.23,473.81 C354.13,472.76 355.43,471.16 357.71,470.34 C359.99,469.52 364.19,469.08 367.93,468.91 C371.68,468.74 376.28,469.01 380.20,469.31 C384.12,469.62 388.49,470.06 391.45,470.75 C394.42,471.43 396.77,472.45 398.00,473.40 C399.22,474.36 399.73,475.69 398.81,476.47 C397.89,477.26 395.58,477.90 392.47,478.11 C389.37,478.31 384.29,477.84 380.20,477.70 C376.11,477.56 371.58,477.46 367.93,477.29 C364.29,477.12 360.61,477.26 358.32,476.68 C356.04,476.10 354.34,474.87 354.23,473.81Z" fill="#0b0b0b" opacity="1" filter="url(#b15)"/>
</g>
<rect x="288.3" y="461.0" width="130.3" height="27.7" fill="none" stroke="#242424" stroke-width="1.25"/>
<rect x="288.3" y="494.0" width="130.3" height="28.0" fill="#ebebeb"/>
<g clip-path="url(#cH2)">
<path d="M302.49,506.12 C302.49,504.56 302.84,502.51 304.54,501.22 C306.24,499.92 309.31,498.90 312.72,498.35 C316.13,497.81 320.90,497.88 324.99,497.94 C329.08,498.01 333.85,498.15 337.26,498.76 C340.67,499.38 343.67,500.40 345.44,501.63 C347.21,502.85 347.83,504.69 347.89,506.12 C347.96,507.56 347.62,509.06 345.85,510.21 C344.08,511.37 340.74,512.46 337.26,513.08 C333.78,513.69 329.08,513.90 324.99,513.90 C320.90,513.90 316.13,513.62 312.72,513.08 C309.31,512.53 306.24,511.78 304.54,510.62 C302.84,509.46 302.49,507.69 302.49,506.12Z" fill="#444" opacity="0.3" filter="url(#bh)"/>
<path d="M354.03,507.15 C354.10,505.68 354.44,503.64 356.07,502.44 C357.71,501.25 360.16,500.54 363.84,499.99 C367.53,499.44 373.39,499.10 378.16,499.17 C382.93,499.24 388.73,499.65 392.47,500.40 C396.22,501.15 398.95,502.38 400.65,503.67 C402.36,504.97 402.77,506.81 402.70,508.17 C402.63,509.53 402.29,510.83 400.25,511.85 C398.20,512.87 394.45,513.83 390.43,514.30 C386.41,514.78 380.72,514.85 376.11,514.71 C371.51,514.58 366.23,514.07 362.82,513.49 C359.41,512.91 357.13,512.29 355.66,511.24 C354.20,510.18 353.96,508.61 354.03,507.15Z" fill="#444" opacity="0.3" filter="url(#bh)"/>
<path d="M302.49,506.12 C302.49,504.56 302.84,502.51 304.54,501.22 C306.24,499.92 309.31,498.90 312.72,498.35 C316.13,497.81 320.90,497.88 324.99,497.94 C329.08,498.01 333.85,498.15 337.26,498.76 C340.67,499.38 343.67,500.40 345.44,501.63 C347.21,502.85 347.83,504.69 347.89,506.12 C347.96,507.56 347.62,509.06 345.85,510.21 C344.08,511.37 340.74,512.46 337.26,513.08 C333.78,513.69 329.08,513.90 324.99,513.90 C320.90,513.90 316.13,513.62 312.72,513.08 C309.31,512.53 306.24,511.78 304.54,510.62 C302.84,509.46 302.49,507.69 302.49,506.12Z" fill="#0b0b0b" opacity="1.0" filter="url(#b1)"/>
<path d="M354.03,507.15 C354.10,505.68 354.44,503.64 356.07,502.44 C357.71,501.25 360.16,500.54 363.84,499.99 C367.53,499.44 373.39,499.10 378.16,499.17 C382.93,499.24 388.73,499.65 392.47,500.40 C396.22,501.15 398.95,502.38 400.65,503.67 C402.36,504.97 402.77,506.81 402.70,508.17 C402.63,509.53 402.29,510.83 400.25,511.85 C398.20,512.87 394.45,513.83 390.43,514.30 C386.41,514.78 380.72,514.85 376.11,514.71 C371.51,514.58 366.23,514.07 362.82,513.49 C359.41,512.91 357.13,512.29 355.66,511.24 C354.20,510.18 353.96,508.61 354.03,507.15Z" fill="#0b0b0b" opacity="1.0" filter="url(#b1)"/>
</g>
<rect x="288.3" y="494.0" width="130.3" height="28.0" fill="none" stroke="#242424" stroke-width="1.25"/>
<text transform="translate(285 478.8)" font-size="12" text-anchor="end" font-weight="normal" fill="#0c0c0c">Flot2</text>
<text transform="translate(285 514.6)" font-size="12" text-anchor="end" font-weight="normal" fill="#0c0c0c">GAPDH</text>
<text transform="translate(420.7 479.2)" font-size="12" text-anchor="start" font-weight="normal" fill="#0c0c0c">42kDa</text>
<text transform="translate(420.7 511.3)" font-size="12" text-anchor="start" font-weight="normal" fill="#0c0c0c">37kDa</text>
<text transform="translate(459.8 434.3)" font-size="15" text-anchor="start" font-weight="normal" fill="#0c0c0c">I</text>
<line x1="515.00" y1="432.40" x2="515.00" y2="539.95" stroke="#505050" stroke-width="1.0"/>
<line x1="514.45" y1="539.40" x2="704.00" y2="539.40" stroke="#505050" stroke-width="1.0"/>
<line x1="511.40" y1="432.90" x2="515.00" y2="432.90" stroke="#505050" stroke-width="1.0"/>
<text transform="translate(511.4 437.09999999999997) scale(0.96 1)" font-size="12" text-anchor="end" font-weight="bold" fill="#0c0c0c">2.0</text>
<line x1="511.40" y1="459.52" x2="515.00" y2="459.52" stroke="#505050" stroke-width="1.0"/>
<text transform="translate(511.4 463.72499999999997) scale(0.96 1)" font-size="12" text-anchor="end" font-weight="bold" fill="#0c0c0c">1.5</text>
<line x1="511.40" y1="486.15" x2="515.00" y2="486.15" stroke="#505050" stroke-width="1.0"/>
<text transform="translate(511.4 490.34999999999997) scale(0.96 1)" font-size="12" text-anchor="end" font-weight="bold" fill="#0c0c0c">1.0</text>
<line x1="511.40" y1="512.77" x2="515.00" y2="512.77" stroke="#505050" stroke-width="1.0"/>
<text transform="translate(511.4 516.975) scale(0.96 1)" font-size="12" text-anchor="end" font-weight="bold" fill="#0c0c0c">0.5</text>
<line x1="511.40" y1="539.40" x2="515.00" y2="539.40" stroke="#505050" stroke-width="1.0"/>
<text transform="translate(511.4 543.6) scale(0.96 1)" font-size="12" text-anchor="end" font-weight="bold" fill="#0c0c0c">0.0</text>
<text transform="translate(488.0 485.6) rotate(-90) scale(1 0.92)" font-size="12.05" text-anchor="middle" font-weight="normal" fill="#0c0c0c">Flot2 protein expression</text>
<rect x="538.10" y="486.15" width="45.70" height="53.25" fill="#b3ddc1" stroke="#303030" stroke-width="1.1"/>
<rect x="629.20" y="455.26" width="45.80" height="84.13" fill="#4f9bd3" stroke="#303030" stroke-width="1.1"/>
<line x1="657.00" y1="455.26" x2="657.00" y2="448.61" stroke="#1c1c1c" stroke-width="1.0"/>
<line x1="646.00" y1="448.61" x2="668.00" y2="448.61" stroke="#1c1c1c" stroke-width="1.0"/>
<text transform="translate(560.7 552.0)" font-size="11.6" text-anchor="middle" font-weight="normal" fill="#0c0c0c">Vector</text>
<text transform="translate(652.8 552.0)" font-size="11.6" text-anchor="middle" font-weight="normal" fill="#0c0c0c">Ad-KLF15</text>
<circle cx="555.0" cy="486.2" r="2.2" fill="#060606"/>
<circle cx="560.5" cy="486.2" r="2.2" fill="#060606"/>
<circle cx="566.0" cy="486.2" r="2.2" fill="#060606"/>
<line x1="559.60" y1="435.80" x2="652.80" y2="435.80" stroke="#4c4c4c" stroke-width="1.45"/>
<text transform="translate(606 436.4)" font-size="13.5" text-anchor="middle" font-weight="bold" fill="#111">*</text>
<circle cx="657.0" cy="450.0" r="2.1" fill="#060606"/>
<rect x="647.6" y="465.1" width="3.8" height="3.8" fill="#060606"/>
<rect x="658.1" y="462.6" width="3.8" height="3.8" fill="#060606"/>
<line x1="675.00" y1="455.30" x2="680.00" y2="455.30" stroke="#1c1c1c" stroke-width="1.0"/>
<text transform="translate(4 566)" font-size="15" text-anchor="start" font-weight="normal" fill="#0c0c0c">J</text>
<text transform="translate(77 560.8)" font-size="12.1" text-anchor="middle" font-weight="normal" fill="#0c0c0c">LPS</text>
<text transform="translate(153.3 560.8)" font-size="12.1" text-anchor="middle" font-weight="normal" fill="#0c0c0c">Con</text>
<line x1="32.40" y1="563.20" x2="107.40" y2="563.20" stroke="#333" stroke-width="1.0"/>
<line x1="115.40" y1="563.20" x2="189.60" y2="563.20" stroke="#333" stroke-width="1.0"/>
<text transform="translate(49 576.8)" font-size="12.1" text-anchor="middle" font-weight="normal" fill="#0c0c0c">Input</text>
<text transform="translate(80 576.8)" font-size="12.1" text-anchor="middle" font-weight="normal" fill="#0c0c0c">IgG</text>
<text transform="translate(103.5 576.8)" font-size="12.1" text-anchor="middle" font-weight="normal" fill="#0c0c0c">IP</text>
<text transform="translate(133.5 576.8)" font-size="12.1" text-anchor="middle" font-weight="normal" fill="#0c0c0c">Input</text>
<text transform="translate(162 576.8)" font-size="12.1" text-anchor="middle" font-weight="normal" fill="#0c0c0c">IgG</text>
<text transform="translate(183.7 576.8)" font-size="12.1" text-anchor="middle" font-weight="normal" fill="#0c0c0c">IP</text>
<rect x="8.0" y="579.4" width="192" height="138.4" fill="url(#gelg)"/>
<g clip-path="url(#cJ)">
<rect x="14.8" y="603.10" width="20" height="1.2" fill="#f6f2f2" opacity="0.2" filter="url(#b4)"/>
<rect x="14.8" y="615.80" width="20" height="1.4" fill="#f6f2f2" opacity="0.34" filter="url(#b4)"/>
<rect x="14.8" y="621.10" width="20" height="2.6" fill="#f6f2f2" opacity="0.97" filter="url(#b4)"/>
<rect x="14.8" y="630.55" width="20" height="1.5" fill="#f6f2f2" opacity="0.52" filter="url(#b4)"/>
<rect x="14.8" y="647.00" width="20" height="1.2" fill="#f6f2f2" opacity="0.07" filter="url(#b4)"/>
<rect x="14.8" y="659.70" width="20" height="1.2" fill="#f6f2f2" opacity="0.17" filter="url(#b4)"/>
<rect x="40.3" y="641.0" width="21" height="5.8" rx="2" fill="#ffffff" opacity="0.28" filter="url(#b2)"/>
<rect x="92.6" y="642.2" width="21.2" height="4.8" rx="2" fill="#ffffff" opacity="0.16" filter="url(#b2)"/>
<rect x="118.6" y="641.6" width="21.4" height="7.4" rx="2" fill="#ffffff" opacity="0.3" filter="url(#b2)"/>
<rect x="171.0" y="643.4" width="19" height="6.4" rx="2" fill="#ffffff" opacity="0.24" filter="url(#b2)"/>
<rect x="14.8" y="620.6" width="20" height="3.6" rx="2" fill="#ffffff" opacity="0.22" filter="url(#b2)"/>
<rect x="40.3" y="641.6" width="21" height="4.6" rx="2" fill="#ffffff" filter="url(#b4)"/>
<rect x="92.6" y="643.0" width="21.2" height="3.2" rx="1.4" fill="#ece8e8" opacity="0.85" filter="url(#b3)"/>
<rect x="118.6" y="642.4" width="21.4" height="5.8" rx="2.4" fill="#ffffff" filter="url(#b4)"/>
<path d="M171.8,645.6 Q180.5,649.2 189.2,645.8" fill="none" stroke="#f8f5f5" stroke-width="3.8" stroke-linecap="round" opacity="0.95" filter="url(#b3)"/>
</g>
<text transform="translate(202.5 576.6)" font-size="12.2" text-anchor="start" font-weight="normal" fill="#0c0c0c">IP:</text>
<text transform="translate(202.5 590.8)" font-size="12.2" text-anchor="start" font-weight="normal" fill="#0c0c0c">anti-KLF15</text>
<text transform="translate(202.5 649.3)" font-size="12.1" text-anchor="start" font-weight="normal" fill="#0c0c0c">Flot2 promoter</text>
<text transform="translate(202.5 663.3)" font-size="12.1" text-anchor="start" font-weight="normal" fill="#0c0c0c">region</text>
<text transform="translate(260.5 567.3)" font-size="15" text-anchor="start" font-weight="normal" fill="#0c0c0c">K</text>
<line x1="325.70" y1="592.35" x2="325.70" y2="703.75" stroke="#1c1c1c" stroke-width="1.15"/>
<line x1="325.15" y1="703.20" x2="445.00" y2="703.20" stroke="#1c1c1c" stroke-width="1.15"/>
<line x1="323.70" y1="593.85" x2="325.70" y2="593.85" stroke="#1c1c1c" stroke-width="1.15"/>
<text transform="translate(323.5 598.45) scale(0.8 1)" font-size="13" text-anchor="end" font-weight="bold" fill="#0c0c0c">1.5</text>
<line x1="323.70" y1="630.30" x2="325.70" y2="630.30" stroke="#1c1c1c" stroke-width="1.15"/>
<text transform="translate(323.5 634.9000000000001) scale(0.8 1)" font-size="13" text-anchor="end" font-weight="bold" fill="#0c0c0c">1.0</text>
<line x1="323.70" y1="666.75" x2="325.70" y2="666.75" stroke="#1c1c1c" stroke-width="1.15"/>
<text transform="translate(323.5 671.35) scale(0.8 1)" font-size="13" text-anchor="end" font-weight="bold" fill="#0c0c0c">0.5</text>
<line x1="323.70" y1="703.20" x2="325.70" y2="703.20" stroke="#1c1c1c" stroke-width="1.15"/>
<text transform="translate(323.5 707.8000000000001) scale(0.8 1)" font-size="13" text-anchor="end" font-weight="bold" fill="#0c0c0c">0.0</text>
<text transform="translate(291.0 647.5) rotate(-90) scale(1 0.84)" font-size="12.9" text-anchor="middle" font-weight="normal" fill="#0c0c0c">Relative flod of</text>
<text transform="translate(306.0 648.5) rotate(-90) scale(1 0.88)" font-size="12" text-anchor="middle" font-weight="normal" fill="#0c0c0c">enrichment</text>
<rect x="341.10" y="630.30" width="30.00" height="72.90" fill="#b3ddc1" stroke="#303030" stroke-width="0.8"/>
<rect x="400.80" y="668.21" width="31.00" height="34.99" fill="#f08c8d" stroke="#303030" stroke-width="0.8"/>
<line x1="416.50" y1="668.21" x2="416.50" y2="665.66" stroke="#1c1c1c" stroke-width="1.0"/>
<line x1="410.50" y1="665.66" x2="422.50" y2="665.66" stroke="#1c1c1c" stroke-width="1.0"/>
<circle cx="353.0" cy="630.2" r="2.3" fill="#060606"/>
<circle cx="356.5" cy="630.2" r="2.3" fill="#060606"/>
<circle cx="360.0" cy="630.2" r="2.3" fill="#060606"/>
<circle cx="414.5" cy="667.0" r="2.3" fill="#060606"/>
<circle cx="416.5" cy="665.0" r="2.3" fill="#060606"/>
<circle cx="415.0" cy="670.0" r="2.3" fill="#060606"/>
<line x1="356.30" y1="620.10" x2="417.20" y2="620.10" stroke="#0c0c0c" stroke-width="1.7"/>
<text transform="translate(386.2 621)" font-size="15" text-anchor="middle" font-weight="normal" fill="#0c0c0c">*</text>
<text transform="translate(353.2 717.8)" font-size="12.1" text-anchor="middle" font-weight="normal" fill="#0c0c0c">Con</text>
<text transform="translate(416.3 717.8)" font-size="12.1" text-anchor="middle" font-weight="normal" fill="#0c0c0c">LPS</text>
<text transform="translate(459.6 566.0)" font-size="15" text-anchor="start" font-weight="normal" fill="#0c0c0c">L</text>
<line x1="515.80" y1="569.38" x2="515.80" y2="666.55" stroke="#3c3c3c" stroke-width="1.05"/>
<line x1="515.25" y1="666.00" x2="702.00" y2="666.00" stroke="#3c3c3c" stroke-width="1.05"/>
<line x1="511.40" y1="569.88" x2="515.80" y2="569.88" stroke="#3c3c3c" stroke-width="1.05"/>
<text transform="translate(510.79999999999995 574.075) scale(0.96 1)" font-size="12" text-anchor="end" font-weight="bold" fill="#0c0c0c">2.0</text>
<line x1="511.40" y1="589.10" x2="515.80" y2="589.10" stroke="#3c3c3c" stroke-width="1.05"/>
<line x1="511.40" y1="608.33" x2="515.80" y2="608.33" stroke="#3c3c3c" stroke-width="1.05"/>
<line x1="511.40" y1="627.55" x2="515.80" y2="627.55" stroke="#3c3c3c" stroke-width="1.05"/>
<line x1="511.40" y1="646.77" x2="515.80" y2="646.77" stroke="#3c3c3c" stroke-width="1.05"/>
<text transform="translate(510.79999999999995 650.975) scale(0.96 1)" font-size="12" text-anchor="end" font-weight="bold" fill="#0c0c0c">0.5</text>
<line x1="511.40" y1="666.00" x2="515.80" y2="666.00" stroke="#3c3c3c" stroke-width="1.05"/>
<text transform="translate(510.79999999999995 670.2) scale(0.96 1)" font-size="12" text-anchor="end" font-weight="bold" fill="#0c0c0c">0.0</text>
<text transform="translate(510.79999999999995 601.2) scale(0.96 1)" font-size="12" text-anchor="end" font-weight="bold" fill="#0c0c0c">1.5</text>
<text transform="translate(510.79999999999995 628.6) scale(0.96 1)" font-size="12" text-anchor="end" font-weight="bold" fill="#0c0c0c">1.0</text>
<text transform="translate(477.8 618.5) rotate(-90) scale(1 0.9)" font-size="12.05" text-anchor="middle" font-weight="normal" fill="#0c0c0c">Relative luciferase</text>
<text transform="translate(489.6 623.6) rotate(-90) scale(1 0.9)" font-size="11.7" text-anchor="middle" font-weight="normal" fill="#0c0c0c">activity of &#160;Flot2</text>
<rect x="522.00" y="627.55" width="25.60" height="38.45" fill="#6cbc8e" stroke="#303030" stroke-width="0.8"/>
<rect x="559.60" y="633.05" width="25.60" height="32.95" fill="#9b9695" stroke="#303030" stroke-width="0.8"/>
<rect x="597.20" y="642.16" width="25.30" height="23.84" fill="#ef7273" stroke="#303030" stroke-width="0.8"/>
<rect x="634.50" y="626.40" width="25.60" height="39.60" fill="#c5e3b3" stroke="#303030" stroke-width="0.8"/>
<rect x="672.10" y="599.87" width="25.60" height="66.13" fill="#4f9bd3" stroke="#303030" stroke-width="0.8"/>
<line x1="572.50" y1="633.05" x2="572.50" y2="631.39" stroke="#1c1c1c" stroke-width="1.0"/>
<line x1="566.50" y1="631.39" x2="578.50" y2="631.39" stroke="#1c1c1c" stroke-width="1.0"/>
<line x1="610.00" y1="642.16" x2="610.00" y2="640.24" stroke="#1c1c1c" stroke-width="1.0"/>
<line x1="604.00" y1="640.24" x2="616.00" y2="640.24" stroke="#1c1c1c" stroke-width="1.0"/>
<line x1="647.50" y1="626.40" x2="647.50" y2="625.24" stroke="#1c1c1c" stroke-width="1.0"/>
<line x1="641.50" y1="625.24" x2="653.50" y2="625.24" stroke="#1c1c1c" stroke-width="1.0"/>
<line x1="685.00" y1="599.87" x2="685.00" y2="593.71" stroke="#1c1c1c" stroke-width="1.0"/>
<line x1="678.00" y1="593.71" x2="692.00" y2="593.71" stroke="#1c1c1c" stroke-width="1.0"/>
<circle cx="529.5" cy="627.4" r="2.2" fill="#060606"/>
<circle cx="534.8" cy="627.4" r="2.2" fill="#060606"/>
<circle cx="540.0" cy="627.4" r="2.2" fill="#060606"/>
<circle cx="570.5" cy="630.5" r="2.2" fill="#060606"/>
<circle cx="575.5" cy="632.0" r="2.2" fill="#060606"/>
<circle cx="572.0" cy="635.0" r="2.2" fill="#060606"/>
<circle cx="609.5" cy="638.5" r="2.2" fill="#060606"/>
<circle cx="613.5" cy="643.5" r="2.2" fill="#060606"/>
<circle cx="606.5" cy="645.0" r="2.2" fill="#060606"/>
<circle cx="646.5" cy="624.5" r="2.2" fill="#060606"/>
<circle cx="650.0" cy="627.5" r="2.2" fill="#060606"/>
<circle cx="644.5" cy="628.5" r="2.2" fill="#060606"/>
<circle cx="684.5" cy="587.0" r="2.2" fill="#060606"/>
<circle cx="688.5" cy="603.0" r="2.2" fill="#060606"/>
<circle cx="681.0" cy="607.5" r="2.2" fill="#060606"/>
<line x1="534.50" y1="608.90" x2="607.80" y2="608.90" stroke="#4c4c4c" stroke-width="1.45"/>
<text transform="translate(570.6 610.4)" font-size="13.5" text-anchor="middle" font-weight="bold" fill="#111">*</text>
<line x1="569.80" y1="622.70" x2="607.80" y2="622.70" stroke="#4c4c4c" stroke-width="1.45"/>
<text transform="translate(588.1 624.4)" font-size="13.5" text-anchor="middle" font-weight="bold" fill="#111">*</text>
<line x1="648.00" y1="583.50" x2="686.80" y2="583.50" stroke="#4c4c4c" stroke-width="1.45"/>
<text transform="translate(666.7 585.4)" font-size="13.5" text-anchor="middle" font-weight="bold" fill="#111">*</text>
<text transform="translate(537.2 672.8) rotate(-45)" font-size="11.8" text-anchor="end" font-weight="normal" fill="#0c0c0c">Con</text>
<text transform="translate(575.2 672.8) rotate(-45)" font-size="11.8" text-anchor="end" font-weight="normal" fill="#0c0c0c">Scramble</text>
<text transform="translate(612.2 672.8) rotate(-45)" font-size="11.8" text-anchor="end" font-weight="normal" fill="#0c0c0c">KLF15-siRNA</text>
<text transform="translate(650.0 672.8) rotate(-45)" font-size="11.8" text-anchor="end" font-weight="normal" fill="#0c0c0c">Vector</text>
<text transform="translate(688.4 672.8) rotate(-45)" font-size="11.8" text-anchor="end" font-weight="normal" fill="#0c0c0c">Ad-KLF15</text>
</svg></body></html>
